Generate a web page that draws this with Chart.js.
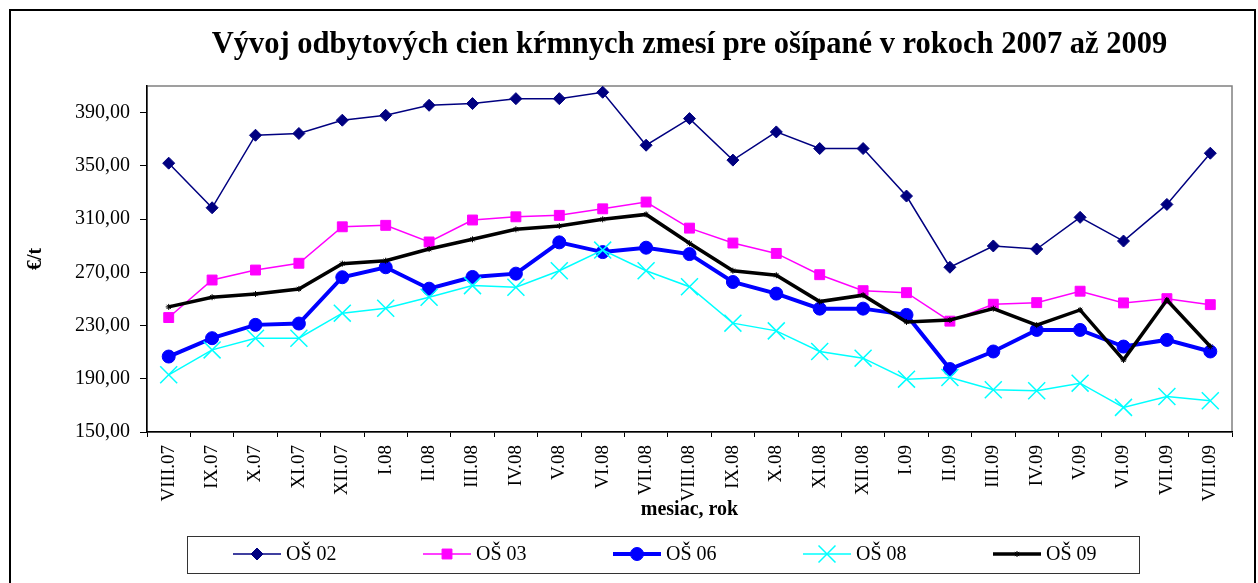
<!DOCTYPE html>
<html>
<head>
<meta charset="utf-8">
<script src="https://cdn.jsdelivr.net/npm/chart.js@4"></script>
<style>
  body { margin: 0; background: #fff; }
  canvas { display: block; }
</style>
</head>
<body>
<canvas id="feedChart" width="1258" height="583"></canvas>
<script>
// --- data ---
const months = ['VIII.07', 'IX.07', 'X.07', 'XI.07', 'XII.07', 'I.08', 'II.08', 'III.08', 'IV.08', 'V.08',
    'VI.08', 'VII.08', 'VIII.08', 'IX.08', 'X.08', 'XI.08', 'XII.08', 'I.09', 'II.09', 'III.09',
    'IV.09', 'V.09', 'VI.09', 'VII.09', 'VIII.09'];

const os02 = [352, 318.5, 373, 374.3, 384.3, 388, 395.5, 396.8, 400.5, 400.5, 405.3, 365.5, 385.5,
    354.3, 375.5, 363, 363, 327.3, 273.8, 289.8, 287.5, 311.3, 293.5, 321, 359.5];
const os03 = [236, 264.2, 271.7, 276.8, 304.2, 305.3, 292.8, 309.3, 311.7, 312.8, 317.7, 322.8, 303.2,
    292, 284.2, 268.2, 256.2, 254.7, 233.3, 246, 247.2, 255.8, 247, 250.2, 245.7];
const os06 = [206.7, 220.5, 230.5, 231.5, 266.3, 273.8, 257.7, 266.5, 269, 292.5, 285.2, 288.5, 283.7,
    262.7, 254, 242.7, 242.7, 238, 197.3, 210.5, 226.7, 226.7, 214.2, 219.2, 210.5];
const os08 = [193, 211.7, 220.5, 220.5, 239.3, 243, 251.3, 260, 258.8, 271.2, 286.7, 271.2, 259.2,
    231.8, 226, 210.5, 205.5, 189.7, 191, 181.7, 181, 186.7, 168.5, 176.7, 173.5];
const os09 = [244, 251.3, 253.7, 257.5, 276.5, 278.7, 287.5, 294.8, 302.3, 304.8, 309.8, 313.5, 291.8,
    271.2, 267.8, 248, 252.8, 232.7, 234.2, 242.7, 230.3, 241.7, 204.2, 249.2, 214.2];

const yTicks = [150, 190, 230, 270, 310, 350, 390];

const serif = "'Liberation Serif', 'Times New Roman', serif";
Chart.defaults.font.family = serif;
Chart.defaults.font.size = 20;
Chart.defaults.color = '#000';

// outer frame + grey plot frame
const framePlugin = {
    id: 'frame',
    beforeDraw(chart) {
        const ctx = chart.ctx;
        const a = chart.chartArea;
        ctx.save();
        ctx.strokeStyle = '#000';
        ctx.lineWidth = 2;
        ctx.strokeRect(10, 10, 1245, 600);
        ctx.strokeStyle = '#808080';
        ctx.lineWidth = 1.5;
        ctx.strokeRect(a.left, a.top, a.right - a.left, a.bottom - a.top);
        ctx.restore();
    }
};

// boxed legend with line + marker samples, like the Excel original
const boxLegendPlugin = {
    id: 'boxLegend',
    afterDraw(chart) {
        const ctx = chart.ctx;
        ctx.save();
        ctx.strokeStyle = '#333';
        ctx.lineWidth = 1;
        ctx.strokeRect(187.5, 536.5, 952, 37);
        const y = 554;
        chart.data.datasets.forEach(function (ds, i) {
            const x0 = 233 + i * 190;
            ctx.strokeStyle = ds.borderColor;
            ctx.fillStyle = ds.backgroundColor;
            ctx.lineWidth = ds.borderWidth;
            ctx.beginPath();
            ctx.moveTo(x0, y);
            ctx.lineTo(x0 + 48, y);
            ctx.stroke();
            ctx.lineWidth = ds.pointBorderWidth;
            Chart.helpers.drawPoint(ctx, {
                pointStyle: ds.pointStyle,
                radius: ds.pointRadius,
                borderWidth: ds.pointBorderWidth,
                rotation: 0
            }, x0 + 24, y);
            ctx.fillStyle = '#000';
            ctx.font = '20px ' + serif;
            ctx.textBaseline = 'middle';
            ctx.textAlign = 'left';
            ctx.fillText(ds.label, x0 + 53, y + 1);
        });
        ctx.restore();
    }
};

function series(label, data, color, width, style, radius, order) {
    return {
        label: label,
        data: data,
        borderColor: color,
        backgroundColor: color,
        borderWidth: width,
        pointStyle: style,
        pointRadius: radius,
        pointHoverRadius: radius,
        pointBorderWidth: style === 'crossRot' ? 1.5 : 1,
        tension: 0,
        order: order
    };
}

new Chart(document.getElementById('feedChart'), {
    type: 'line',
    data: {
        labels: months,
        datasets: [
            series('OŠ 02', os02, '#000080', 1.5, 'rectRot', 6, 5),
            series('OŠ 03', os03, '#ff00ff', 1.5, 'rect', 7, 4),
            series('OŠ 06', os06, '#0000ff', 4, 'circle', 6.5, 3),
            series('OŠ 08', os08, '#00ffff', 1.5, 'crossRot', 12, 2),
            series('OŠ 09', os09, '#000000', 3.5, 'star', 3, 1)
        ]
    },
    options: {
        responsive: false,
        animation: false,
        layout: {
            padding: { left: 14, right: 26, top: 0, bottom: 61 }
        },
        plugins: {
            legend: { display: false },
            tooltip: { enabled: false },
            title: {
                display: true,
                fullSize: false,
                text: 'Vývoj odbytových cien kŕmnych zmesí pre ošípané v rokoch 2007 až 2009',
                font: { size: 30.5, weight: 'bold', family: serif },
                color: '#000',
                padding: { top: 27, bottom: 22.4 }
            }
        },
        scales: {
            x: {
                offset: true,
                grid: {
                    offset: true,
                    drawOnChartArea: false,
                    tickLength: 5,
                    color: '#000'
                },
                border: { color: '#000', width: 1.5 },
                ticks: {
                    autoSkip: false,
                    minRotation: 90,
                    maxRotation: 90,
                    padding: 8,
                    font: { size: 19 }
                },
                title: {
                    display: true,
                    text: 'mesiac, rok',
                    font: { size: 20, weight: 'bold' },
                    padding: { top: 0, bottom: 0 }
                },
                afterFit: function (scale) { scale.height = 90; }
            },
            y: {
                min: 150,
                max: 410,
                grid: {
                    drawOnChartArea: false,
                    tickLength: 7,
                    color: '#000'
                },
                border: { color: '#000', width: 1.5 },
                ticks: {
                    padding: 10,
                    font: { size: 20 },
                    callback: function (v) { return v.toFixed(2).replace('.', ','); }
                },
                afterBuildTicks: function (scale) {
                    scale.ticks = yTicks.map(function (v) { return { value: v }; });
                },
                title: {
                    display: true,
                    text: '€/t',
                    font: { size: 20, weight: 'bold' },
                    padding: { top: 10, bottom: 0 }
                },
                afterFit: function (scale) { scale.width = 133; }
            }
        }
    },
    plugins: [framePlugin, boxLegendPlugin]
});
</script>
</body>
</html>
